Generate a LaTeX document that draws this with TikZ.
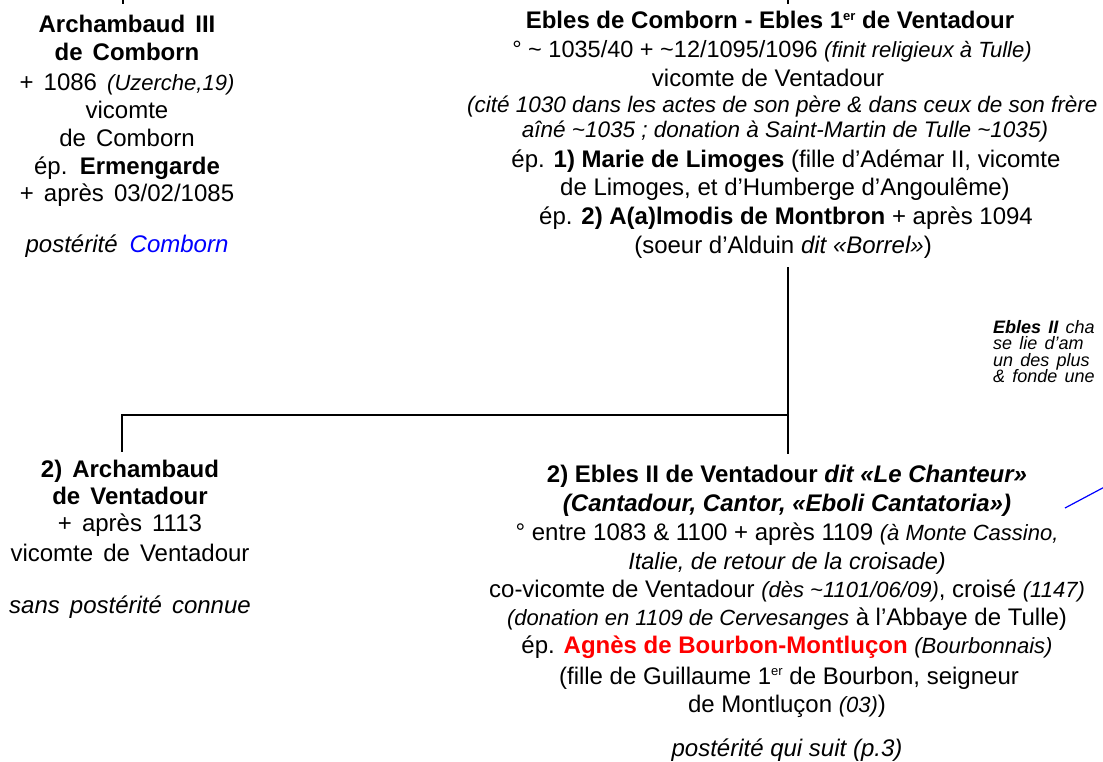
\documentclass[tikz,border=0pt]{standalone}
\usepackage{fontspec}
\setmainfont{Liberation Sans}
\newcommand\fz[1]{\fontsize{#1}{#1}\selectfont}
\newcommand\sm[1]{{\fz{22}\itshape #1}}
\newcommand\ersup{\raisebox{0.36em}{\fz{13}er}}
\newcommand\lfont{\fz{24}\spaceskip=0.42em\relax}
\newcommand\nfont{\fz{18}\itshape\spaceskip=0.4em\relax}
\begin{document}
\begin{tikzpicture}[x=1pt,y=-1pt,
  txt/.style={anchor=base,inner sep=0pt,font=\fz{24}},
  lft/.style={anchor=base,inner sep=0pt,font=\lfont},
  note/.style={anchor=base west,inner sep=0pt,font=\nfont},
  link/.style={line width=2.9pt},
  ptr/.style={draw=blue,line width=1.2pt}]
\fill[white] (0,0) rectangle (1103,762);
\useasboundingbox (0,0) rectangle (1103,762);
% top left person
\node[lft] (a1) at (127,33) {\bfseries Archambaud III};
\node[lft] (a2) at (127,61) {\bfseries de Comborn};
\node[lft] (a3) at (127,91) {+ 1086 \sm{(Uzerche,19)}};
\node[lft] (a4) at (127,119) {vicomte};
\node[lft] (a5) at (127,147) {de Comborn};
\node[lft] (a6) at (127,175) {ép. \textbf{Ermengarde}};
\node[lft] (a7) at (127,202) {+ après 03/02/1085};
\node[lft] (a8) at (127,252) {\itshape postérité\hspace{0.5em}\textcolor{blue}{Comborn}};
% top right person
\node[txt,font=\fz{24}\bfseries] (r1) at (770,29) {Ebles de Comborn - Ebles 1\ersup{} de Ventadour};
\node[txt,font=\fz{23.5}] (r2) at (772,58) {° \textasciitilde{} 1035/40 + \textasciitilde12/1095/1096 \sm{(finit religieux à Tulle)}};
\node[txt,font=\fz{24}] (r3) at (768,87) {vicomte de Ventadour};
\node[txt,anchor=base west,font=\fz{22.5}\itshape] (r4) at (467,113) {(cité 1030 dans les actes de son père \& dans ceux de son frère};
\node[txt,font=\fz{22.5}\itshape] (r5) at (785,138) {aîné \textasciitilde1035 ; donation à Saint-Martin de Tulle \textasciitilde1035)};
\node[txt] (r6) at (786,168) {ép. \textbf{1) Marie de Limoges} (fille d’Adémar II, vicomte};
\node[txt] (r7) at (785,196) {de Limoges, et d’Humberge d’Angoulême)};
\node[txt] (r8) at (786,225) {ép. \textbf{2) A(a)lmodis de Montbron} + après 1094};
\node[txt] (r9) at (783,253) {(soeur d’Alduin \textit{dit «Borrel»})};
% side note
\node[note] (n1) at (993,333) {\textbf{Ebles II} cha};
\node[note] (n2) at (993,349.5) {se lie d'am};
\node[note] (n3) at (993,366) {un des plus};
\node[note] (n4) at (993,382.5) {\& fonde une};
% bottom left person
\node[lft] (b1) at (130,477) {\bfseries 2) Archambaud};
\node[lft] (b2) at (130,504) {\bfseries de Ventadour};
\node[lft] (b3) at (130,531) {+ après 1113};
\node[lft] (b4) at (130,561) {vicomte de Ventadour};
\node[lft] (b5) at (130,613) {\itshape sans postérité connue};
% bottom right person
\node[txt] (e1) at (787,482) {\bfseries 2) Ebles II de Ventadour \itshape dit «Le Chanteur»};
\node[txt] (e2) at (787,511) {\bfseries\itshape (Cantadour, Cantor, «Eboli Cantatoria»)};
\node[txt] (e3) at (787,540) {° entre 1083 \& 1100 + après 1109 \sm{(à Monte Cassino,}};
\node[txt,font=\fz{23.5}\itshape] (e4) at (787,569) {Italie, de retour de la croisade)};
\node[txt] (e5) at (787,597) {co-vicomte de Ventadour \sm{(dès \textasciitilde1101/06/09)}, croisé \sm{(1147)}};
\node[txt] (e6) at (787,625) {\sm{(donation en 1109 de Cervesanges} à l’Abbaye de Tulle)};
\node[txt] (e7) at (787,653) {ép. \textcolor{red}{\bfseries Agnès de Bourbon-Montluçon} \sm{(Bourbonnais)}};
\node[txt] (e8) at (789,684) {(fille de Guillaume 1\ersup{} de Bourbon, seigneur};
\node[txt] (e9) at (787,712) {de Montluçon \sm{(03)})};
\node[txt,font=\fz{24}\itshape] (e10) at (787,756) {postérité qui suit (p.3)};
% connectors
\coordinate (inA0) at (123,-6);
\coordinate (inA1) at (123,4);
\coordinate (inR0) at (788,-6);
\coordinate (inR1) at (788,4);
\coordinate (r9d) at (788,267);
\coordinate (e1u) at (788,454);
\coordinate (junc) at (788,415);
\coordinate (bl) at (122,415);
\coordinate (b1u) at (122,452);
\coordinate (p1) at (1065,508);
\coordinate (p2) at (1112,483);
\draw[link] (inA0) -- (inA1);
\draw[link] (inR0) -- (inR1);
\draw[link] (r9d) -- (e1u);
\draw[link] (junc) -- (bl) -- (b1u);
\draw[ptr] (p1) -- (p2);
\end{tikzpicture}
\end{document}
